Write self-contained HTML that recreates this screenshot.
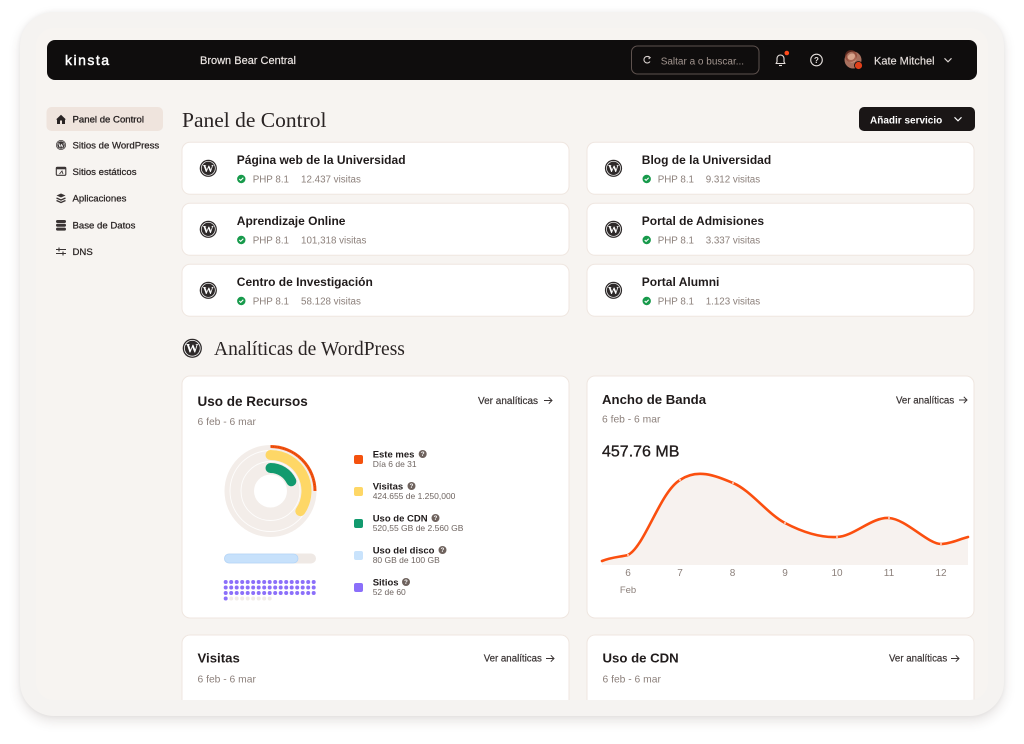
<!DOCTYPE html>
<html><head><meta charset="utf-8">
<style>
html,body{margin:0;padding:0;background:#fff;width:1024px;height:744px;overflow:hidden;}
#frame{position:absolute;left:20px;top:12px;width:984px;height:704px;border-radius:34px;background:#f5f3f1;box-shadow:0 5px 12px rgba(70,50,40,0.14),0 0 5px rgba(0,0,0,0.05);}
svg{position:absolute;left:0;top:0;}
</style></head>
<body>
<div id="frame"></div>
<svg width="1024" height="744" viewBox="0 0 1024 744" xmlns="http://www.w3.org/2000/svg" font-family="Liberation Sans, Arial, sans-serif">
<defs>
<clipPath id="inner"><rect x="36" y="28" width="952" height="672" rx="18"/></clipPath>
</defs>
<rect x="36" y="28" width="952" height="672" rx="18" fill="#f7f4f1"/>

<!-- Header -->
<rect x="47" y="40" width="930" height="40" rx="8" fill="#0f0d0d"/>
<text x="65" y="65" font-size="14" fill="#fff" stroke="#fff" stroke-width="0.45" letter-spacing="1.5">kinsta</text>
<text x="200" y="64" font-size="11" fill="#efe9e6" stroke="#efe9e6" stroke-width="0.15">Brown Bear Central</text>
<rect x="631.5" y="46" width="127.5" height="28" rx="6" fill="none" stroke="#5e524e" stroke-width="1"/>
<path d="M649.5 57.3 A3.3 3.3 0 1 0 650 61.5" fill="none" stroke="#d9d2cf" stroke-width="1.1"/>
<path d="M648.3 56.2 L650.2 57.6 L648.6 59" fill="none" stroke="#d9d2cf" stroke-width="1"/>
<text x="660.7" y="64.3" font-size="10" fill="#a2958f">Saltar a o buscar...</text>
<path d="M776 63.5 L777 62 L777 58.5 A3.5 3.5 0 0 1 784 58.5 L784 62 L785 63.5 Z" fill="none" stroke="#e6e0dd" stroke-width="1.1" stroke-linejoin="round"/>
<path d="M779 65.5 L782 65.5" stroke="#e6e0dd" stroke-width="1.1"/>
<circle cx="786.8" cy="53" r="2.3" fill="#ff4a1a"/>
<circle cx="816.5" cy="60" r="5.8" fill="none" stroke="#e6e0dd" stroke-width="1.1"/>
<text x="816.5" y="63" font-size="8" font-weight="bold" fill="#e6e0dd" text-anchor="middle">?</text>
<circle cx="853" cy="60" r="8.5" fill="#a8705e"/>
<circle cx="852" cy="58" r="4.5" fill="#d8a48c"/>
<circle cx="851" cy="56" r="5" fill="none" stroke="#8a3a2a" stroke-width="2" opacity="0.6"/>
<circle cx="858.5" cy="65.5" r="4" fill="#e0401a" stroke="#0f0d0d" stroke-width="0.8"/>
<text x="874" y="64.3" font-size="11" fill="#e6dfdc" stroke="#e6dfdc" stroke-width="0.15">Kate Mitchel</text>
<path d="M944.5 58.3 L948 61.8 L951.5 58.3" fill="none" stroke="#ddd6d3" stroke-width="1.1"/>

<!-- Sidebar -->
<rect x="46.5" y="107" width="116.5" height="24" rx="5" fill="#efe4dd"/>
<path d="M56 119.5 L61 114.8 L66 119.5 L65 119.5 L65 124 L57 124 L57 119.5 Z" fill="#2a2424"/>
<rect x="60" y="120.5" width="2" height="3.5" fill="#efe4dd"/>
<text x="72.5" y="122.7" font-size="9.6" fill="#221d1d" stroke="#221d1d" stroke-width="0.3">Panel de Control</text>

<circle cx="61" cy="145" r="5" fill="#3a3434"/>
<circle cx="61" cy="145" r="4" fill="none" stroke="#fff" stroke-width="0.5"/>
<text x="61" y="147.3" font-size="6" font-weight="bold" font-family="Liberation Serif, serif" fill="#fff" text-anchor="middle">W</text>
<text x="72.5" y="148.6" font-size="9.6" fill="#2a2424" stroke="#2a2424" stroke-width="0.25">Sitios de WordPress</text>

<rect x="56.3" y="167.3" width="9.5" height="8" rx="1" fill="none" stroke="#3a3434" stroke-width="1.1"/>
<rect x="56.3" y="167.3" width="9.5" height="2" fill="#3a3434"/>
<path d="M59.5 174 L62 171 L63 174" fill="none" stroke="#3a3434" stroke-width="0.9"/>
<text x="72.5" y="175" font-size="9.6" fill="#2a2424" stroke="#2a2424" stroke-width="0.25">Sitios estáticos</text>

<path d="M56.5 195.5 L61 193.5 L65.5 195.5 L61 197.5 Z" fill="#3a3434"/>
<path d="M56.5 198 L61 200 L65.5 198" fill="none" stroke="#3a3434" stroke-width="1.3"/>
<path d="M56.5 200.5 L61 202.5 L65.5 200.5" fill="none" stroke="#3a3434" stroke-width="1.3"/>
<text x="72.5" y="201.6" font-size="9.6" fill="#2a2424" stroke="#2a2424" stroke-width="0.25">Aplicaciones</text>

<rect x="56" y="220" width="10" height="3" rx="1.5" fill="#3a3434"/>
<rect x="56" y="223.8" width="10" height="3" rx="1.5" fill="#3a3434"/>
<rect x="56" y="227.6" width="10" height="3" rx="1.5" fill="#3a3434"/>
<text x="72.5" y="228.6" font-size="9.6" fill="#2a2424" stroke="#2a2424" stroke-width="0.25">Base de Datos</text>

<path d="M56 249.5 L66 249.5 M56 253.5 L66 253.5" stroke="#3a3434" stroke-width="1.1"/>
<path d="M59 247.5 L59 251.5 M63 251.5 L63 255.5" stroke="#3a3434" stroke-width="1.1"/>
<text x="72.5" y="255.2" font-size="9.6" fill="#2a2424" stroke="#2a2424" stroke-width="0.25">DNS</text>

<!-- Title + button -->
<text x="182" y="127" font-size="21.5" font-family="Liberation Serif, serif" fill="#2a2424">Panel de Control</text>
<rect x="859" y="107" width="116" height="24" rx="5" fill="#1a1616"/>
<text x="870" y="123.3" font-size="10" font-weight="bold" fill="#fff">Añadir servicio</text>
<path d="M954.5 117.3 L958 120.8 L961.5 117.3" fill="none" stroke="#fff" stroke-width="1.1"/>

<!-- Site cards -->
<g fill="#fff" stroke="#efe6e0" stroke-width="1">
<rect x="182" y="142.3" width="387" height="52" rx="8"/>
<rect x="182" y="203.3" width="387" height="52" rx="8"/>
<rect x="182" y="264.3" width="387" height="52" rx="8"/>
<rect x="587" y="142.3" width="387" height="52" rx="8"/>
<rect x="587" y="203.3" width="387" height="52" rx="8"/>
<rect x="587" y="264.3" width="387" height="52" rx="8"/>
</g>

<!-- WP icons cards -->
<g>
<circle cx="208.3" cy="168.3" r="8.6" fill="#2e2a2a"/><circle cx="208.3" cy="168.3" r="7" fill="none" stroke="#fff" stroke-width="0.7"/>
<text x="208.3" y="172.2" font-size="11" font-weight="bold" font-family="Liberation Serif, serif" fill="#fff" text-anchor="middle">W</text>
<circle cx="208.3" cy="229.3" r="8.6" fill="#2e2a2a"/><circle cx="208.3" cy="229.3" r="7" fill="none" stroke="#fff" stroke-width="0.7"/>
<text x="208.3" y="233.2" font-size="11" font-weight="bold" font-family="Liberation Serif, serif" fill="#fff" text-anchor="middle">W</text>
<circle cx="208.3" cy="290.3" r="8.6" fill="#2e2a2a"/><circle cx="208.3" cy="290.3" r="7" fill="none" stroke="#fff" stroke-width="0.7"/>
<text x="208.3" y="294.2" font-size="11" font-weight="bold" font-family="Liberation Serif, serif" fill="#fff" text-anchor="middle">W</text>
<circle cx="613.5" cy="168.3" r="8.6" fill="#2e2a2a"/><circle cx="613.5" cy="168.3" r="7" fill="none" stroke="#fff" stroke-width="0.7"/>
<text x="613.5" y="172.2" font-size="11" font-weight="bold" font-family="Liberation Serif, serif" fill="#fff" text-anchor="middle">W</text>
<circle cx="613.5" cy="229.3" r="8.6" fill="#2e2a2a"/><circle cx="613.5" cy="229.3" r="7" fill="none" stroke="#fff" stroke-width="0.7"/>
<text x="613.5" y="233.2" font-size="11" font-weight="bold" font-family="Liberation Serif, serif" fill="#fff" text-anchor="middle">W</text>
<circle cx="613.5" cy="290.3" r="8.6" fill="#2e2a2a"/><circle cx="613.5" cy="290.3" r="7" fill="none" stroke="#fff" stroke-width="0.7"/>
<text x="613.5" y="294.2" font-size="11" font-weight="bold" font-family="Liberation Serif, serif" fill="#fff" text-anchor="middle">W</text>
</g>

<!-- Titles -->
<g font-size="12" font-weight="bold" fill="#201b1b">
<text x="236.8" y="164">Página web de la Universidad</text>
<text x="236.8" y="225">Aprendizaje Online</text>
<text x="236.8" y="286">Centro de Investigación</text>
<text x="641.8" y="164">Blog de la Universidad</text>
<text x="641.8" y="225">Portal de Admisiones</text>
<text x="641.8" y="286">Portal Alumni</text>
</g>

<!-- check icons -->
<g>
<circle cx="241.3" cy="179" r="4.2" fill="#179a4b"/><path d="M239.3 179 L240.7 180.4 L243.3 177.7" fill="none" stroke="#fff" stroke-width="1.1"/>
<circle cx="241.3" cy="240" r="4.2" fill="#179a4b"/><path d="M239.3 240 L240.7 241.4 L243.3 238.7" fill="none" stroke="#fff" stroke-width="1.1"/>
<circle cx="241.3" cy="301" r="4.2" fill="#179a4b"/><path d="M239.3 301 L240.7 302.4 L243.3 299.7" fill="none" stroke="#fff" stroke-width="1.1"/>
<circle cx="646.7" cy="179" r="4.2" fill="#179a4b"/><path d="M644.7 179 L646.1 180.4 L648.7 177.7" fill="none" stroke="#fff" stroke-width="1.1"/>
<circle cx="646.7" cy="240" r="4.2" fill="#179a4b"/><path d="M644.7 240 L646.1 241.4 L648.7 238.7" fill="none" stroke="#fff" stroke-width="1.1"/>
<circle cx="646.7" cy="301" r="4.2" fill="#179a4b"/><path d="M644.7 301 L646.1 302.4 L648.7 299.7" fill="none" stroke="#fff" stroke-width="1.1"/>
</g>
<g font-size="9.8" fill="#8c807b">
<text x="252.7" y="182.5">PHP 8.1</text><text x="301" y="182.5">12.437 visitas</text>
<text x="252.7" y="243.5">PHP 8.1</text><text x="301" y="243.5">101,318 visitas</text>
<text x="252.7" y="304.5">PHP 8.1</text><text x="301" y="304.5">58.128 visitas</text>
<text x="657.7" y="182.5">PHP 8.1</text><text x="705.7" y="182.5">9.312 visitas</text>
<text x="657.7" y="243.5">PHP 8.1</text><text x="705.7" y="243.5">3.337 visitas</text>
<text x="657.7" y="304.5">PHP 8.1</text><text x="705.7" y="304.5">1.123 visitas</text>
</g>

<!-- Analiticas heading -->
<circle cx="192.3" cy="348.3" r="9.6" fill="#2e2a2a"/><circle cx="192.3" cy="348.3" r="7.9" fill="none" stroke="#fff" stroke-width="0.8"/>
<text x="192.3" y="352.6" font-size="12.5" font-weight="bold" font-family="Liberation Serif, serif" fill="#fff" text-anchor="middle">W</text>
<text x="214" y="355" font-size="19.5" font-family="Liberation Serif, serif" fill="#2a2424">Analíticas de WordPress</text>

<!-- Analytics cards -->
<rect x="182" y="376" width="387" height="242" rx="8" fill="#fff" stroke="#efe6e0"/>
<rect x="587" y="376" width="387" height="242" rx="8" fill="#fff" stroke="#efe6e0"/>

<!-- Uso de Recursos -->
<text x="197.5" y="406" font-size="13.5" font-weight="bold" fill="#201b1b">Uso de Recursos</text>
<text x="478" y="404" font-size="10" fill="#3a3434" stroke="#3a3434" stroke-width="0.2">Ver analíticas</text>
<path d="M544 400.5 L552 400.5 M548.8 397.3 L552 400.5 L548.8 403.7" fill="none" stroke="#3a3434" stroke-width="1"/>
<text x="197.5" y="425" font-size="10.3" fill="#8c807b">6 feb - 6 mar</text>

<!-- donut -->
<circle cx="270.5" cy="491" r="46" fill="#f3ede9"/>
<circle cx="270.5" cy="491" r="29.5" fill="none" stroke="#fff" stroke-width="0.9" opacity="0.85"/>
<circle cx="270.5" cy="491" r="40.5" fill="none" stroke="#fff" stroke-width="0.9" opacity="0.85"/>
<circle cx="270.5" cy="491" r="16.5" fill="#fff"/>
<path d="M270.5 455 A36 36 0 0 1 300.34 511.13" fill="none" stroke="#fed766" stroke-width="10" stroke-linecap="round"/>
<path d="M270.5 468 A23 23 0 0 1 291.35 481.28" fill="none" stroke="#129a6e" stroke-width="10" stroke-linecap="round"/>
<path d="M270.5 446.5 A44.5 44.5 0 0 1 315 491" fill="none" stroke="#f4510e" stroke-width="3"/>
<path d="M270.5 446.5 A44.5 44.5 0 0 1 315 491" fill="none" stroke="#a8380c" stroke-width="1" stroke-dasharray="1 1.5" opacity="0.5"/>

<!-- disk bar -->
<rect x="224" y="553.5" width="92" height="10" rx="5" fill="#efe9e5"/>
<rect x="224.5" y="554" width="73.5" height="9" rx="4.5" fill="#c7e1fb" stroke="#b3d5f8" stroke-width="0.8"/>

<!-- dots -->
<g fill="#8b6ffa">
<circle cx="225.7" cy="582" r="2"/><circle cx="231.2" cy="582" r="2"/><circle cx="236.7" cy="582" r="2"/><circle cx="242.2" cy="582" r="2"/><circle cx="247.7" cy="582" r="2"/><circle cx="253.2" cy="582" r="2"/><circle cx="258.7" cy="582" r="2"/><circle cx="264.2" cy="582" r="2"/><circle cx="269.7" cy="582" r="2"/><circle cx="275.2" cy="582" r="2"/><circle cx="280.7" cy="582" r="2"/><circle cx="286.2" cy="582" r="2"/><circle cx="291.7" cy="582" r="2"/><circle cx="297.2" cy="582" r="2"/><circle cx="302.7" cy="582" r="2"/><circle cx="308.2" cy="582" r="2"/><circle cx="313.7" cy="582" r="2"/>
<circle cx="225.7" cy="587.5" r="2"/><circle cx="231.2" cy="587.5" r="2"/><circle cx="236.7" cy="587.5" r="2"/><circle cx="242.2" cy="587.5" r="2"/><circle cx="247.7" cy="587.5" r="2"/><circle cx="253.2" cy="587.5" r="2"/><circle cx="258.7" cy="587.5" r="2"/><circle cx="264.2" cy="587.5" r="2"/><circle cx="269.7" cy="587.5" r="2"/><circle cx="275.2" cy="587.5" r="2"/><circle cx="280.7" cy="587.5" r="2"/><circle cx="286.2" cy="587.5" r="2"/><circle cx="291.7" cy="587.5" r="2"/><circle cx="297.2" cy="587.5" r="2"/><circle cx="302.7" cy="587.5" r="2"/><circle cx="308.2" cy="587.5" r="2"/><circle cx="313.7" cy="587.5" r="2"/>
<circle cx="225.7" cy="593" r="2"/><circle cx="231.2" cy="593" r="2"/><circle cx="236.7" cy="593" r="2"/><circle cx="242.2" cy="593" r="2"/><circle cx="247.7" cy="593" r="2"/><circle cx="253.2" cy="593" r="2"/><circle cx="258.7" cy="593" r="2"/><circle cx="264.2" cy="593" r="2"/><circle cx="269.7" cy="593" r="2"/><circle cx="275.2" cy="593" r="2"/><circle cx="280.7" cy="593" r="2"/><circle cx="286.2" cy="593" r="2"/><circle cx="291.7" cy="593" r="2"/><circle cx="297.2" cy="593" r="2"/><circle cx="302.7" cy="593" r="2"/><circle cx="308.2" cy="593" r="2"/><circle cx="313.7" cy="593" r="2"/>
<circle cx="225.7" cy="598.5" r="2"/>
</g>
<g fill="#f1ebe7">
<circle cx="231.2" cy="598.5" r="2"/><circle cx="236.7" cy="598.5" r="2"/><circle cx="242.2" cy="598.5" r="2"/><circle cx="247.7" cy="598.5" r="2"/><circle cx="253.2" cy="598.5" r="2"/><circle cx="258.7" cy="598.5" r="2"/><circle cx="264.2" cy="598.5" r="2"/><circle cx="269.7" cy="598.5" r="2"/>
</g>

<!-- legend -->
<rect x="354" y="455" width="9" height="9" rx="2" fill="#f4510e"/>
<rect x="354" y="487" width="9" height="9" rx="2" fill="#fed766"/>
<rect x="354" y="519" width="9" height="9" rx="2" fill="#129a6e"/>
<rect x="354" y="551" width="9" height="9" rx="2" fill="#c9e3fc"/>
<rect x="354" y="583" width="9" height="9" rx="2" fill="#8b6ffa"/>
<g font-size="9.5" font-weight="bold" fill="#201b1b">
<text x="372.7" y="457.7">Este mes</text>
<text x="372.7" y="489.7">Visitas</text>
<text x="372.7" y="521.7">Uso de CDN</text>
<text x="372.7" y="553.7">Uso del disco</text>
<text x="372.7" y="585.7">Sitios</text>
</g>
<g font-size="8.5" fill="#6f6561">
<text x="372.7" y="467">Día 6 de 31</text>
<text x="372.7" y="499">424.655 de 1.250,000</text>
<text x="372.7" y="531">520,55 GB de 2.560 GB</text>
<text x="372.7" y="563">80 GB de 100 GB</text>
<text x="372.7" y="595">52 de 60</text>
</g>
<g fill="#6e625d">
<circle cx="422.7" cy="454" r="4"/><circle cx="411.5" cy="486" r="4"/><circle cx="435.5" cy="518" r="4"/><circle cx="442.5" cy="550" r="4"/><circle cx="406" cy="582" r="4"/>
</g>
<g font-size="6" font-weight="bold" fill="#fff" text-anchor="middle">
<text x="422.7" y="456.2">?</text><text x="411.5" y="488.2">?</text><text x="435.5" y="520.2">?</text><text x="442.5" y="552.2">?</text><text x="406" y="584.2">?</text>
</g>

<!-- Ancho de Banda -->
<text x="602" y="404" font-size="13.2" font-weight="bold" fill="#201b1b">Ancho de Banda</text>
<text x="896" y="403.3" font-size="9.7" fill="#3a3434" stroke="#3a3434" stroke-width="0.2">Ver analíticas</text>
<path d="M959 400 L967 400 M963.8 396.8 L967 400 L963.8 403.2" fill="none" stroke="#3a3434" stroke-width="1"/>
<text x="602" y="422.7" font-size="10.3" fill="#8c807b">6 feb - 6 mar</text>
<text x="602" y="456.7" font-size="16" fill="#201b1b" stroke="#201b1b" stroke-width="0.35">457.76 MB</text>

<path d="M602,561 C612,557 620,557 628,555 C645,546 660,492 680,480 C697.5,468 715.5,475.8 733,483 C750.5,490.2 767.7,514 785,523 C802.3,532 819.7,537.8 837,537 C854.3,536.2 871.7,516.8 889,518 C906.3,519.2 927.7,544 941,544 C950,544 959,539.3 968,537 L968,565 L602,565 Z" fill="#f7f2ef"/>
<path d="M602,561 C612,557 620,557 628,555 C645,546 660,492 680,480 C697.5,468 715.5,475.8 733,483 C750.5,490.2 767.7,514 785,523 C802.3,532 819.7,537.8 837,537 C854.3,536.2 871.7,516.8 889,518 C906.3,519.2 927.7,544 941,544 C950,544 959,539.3 968,537" fill="none" stroke="#fb4f0f" stroke-width="2.6" stroke-linecap="round"/>
<g fill="#fff">
<circle cx="628" cy="555" r="0.9"/><circle cx="680" cy="480" r="0.9"/><circle cx="733" cy="483" r="0.9"/><circle cx="785" cy="523" r="0.9"/><circle cx="837" cy="537" r="0.9"/><circle cx="889" cy="518" r="0.9"/><circle cx="941" cy="544" r="0.9"/>
</g>
<g font-size="10" fill="#8c807b" text-anchor="middle">
<text x="628" y="576">6</text><text x="680" y="576">7</text><text x="732.5" y="576">8</text><text x="785" y="576">9</text><text x="837" y="576">10</text><text x="889" y="576">11</text><text x="941" y="576">12</text>
<text x="628" y="593" font-size="9.5">Feb</text>
</g>

<!-- bottom cards -->
<g clip-path="url(#inner)">
<rect x="182" y="635" width="387" height="100" rx="8" fill="#fff" stroke="#efe6e0"/>
<rect x="587" y="635" width="387" height="100" rx="8" fill="#fff" stroke="#efe6e0"/>
</g>
<text x="197.5" y="662.7" font-size="13.2" font-weight="bold" fill="#201b1b">Visitas</text>
<text x="483.7" y="661.7" font-size="9.7" fill="#3a3434" stroke="#3a3434" stroke-width="0.2">Ver analíticas</text>
<path d="M546 658.5 L554 658.5 M550.8 655.3 L554 658.5 L550.8 661.7" fill="none" stroke="#3a3434" stroke-width="1"/>
<text x="197.5" y="682.3" font-size="10.3" fill="#8c807b">6 feb - 6 mar</text>
<text x="602.5" y="662.7" font-size="13.2" font-weight="bold" fill="#201b1b">Uso de CDN</text>
<text x="889" y="661.7" font-size="9.7" fill="#3a3434" stroke="#3a3434" stroke-width="0.2">Ver analíticas</text>
<path d="M951 658.5 L959 658.5 M955.8 655.3 L959 658.5 L955.8 661.7" fill="none" stroke="#3a3434" stroke-width="1"/>
<text x="602.5" y="682.3" font-size="10.3" fill="#8c807b">6 feb - 6 mar</text>
</svg>
</body></html>
